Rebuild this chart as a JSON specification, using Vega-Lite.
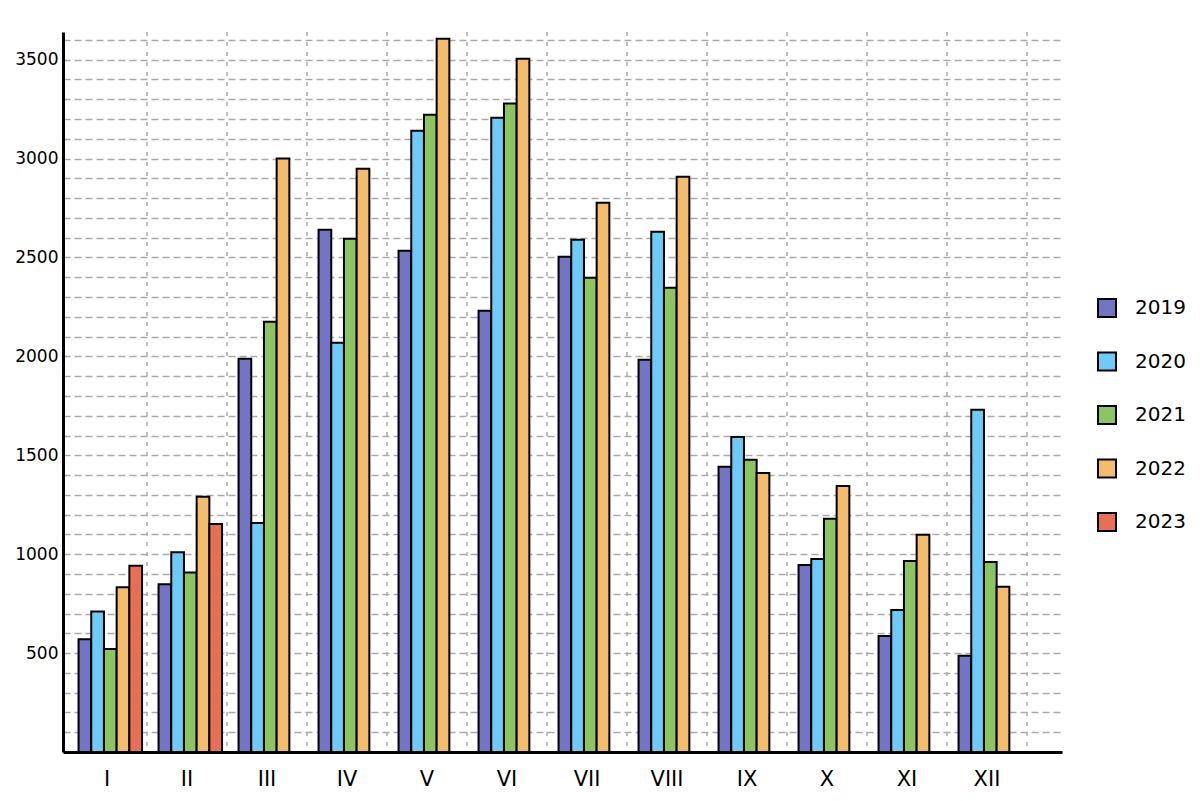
{
  "$schema": "https://vega.github.io/schema/vega-lite/v6.json",
  "description": "Grouped bars by month (I-XII) for 2019-2023",
  "width": 999,
  "height": 720,
  "autosize": {"type": "none"},
  "padding": {"left": 63, "top": 32, "right": 138, "bottom": 49},
  "data": {
    "values": [
      {"month": "I", "year": "2019", "value": 570},
      {"month": "I", "year": "2020", "value": 710},
      {"month": "I", "year": "2021", "value": 521},
      {"month": "I", "year": "2022", "value": 833},
      {"month": "I", "year": "2023", "value": 942},
      {"month": "II", "year": "2019", "value": 848},
      {"month": "II", "year": "2020", "value": 1010},
      {"month": "II", "year": "2021", "value": 907},
      {"month": "II", "year": "2022", "value": 1290},
      {"month": "II", "year": "2023", "value": 1153},
      {"month": "III", "year": "2019", "value": 1988},
      {"month": "III", "year": "2020", "value": 1158},
      {"month": "III", "year": "2021", "value": 2175},
      {"month": "III", "year": "2022", "value": 3000},
      {"month": "IV", "year": "2019", "value": 2640},
      {"month": "IV", "year": "2020", "value": 2069},
      {"month": "IV", "year": "2021", "value": 2595},
      {"month": "IV", "year": "2022", "value": 2949},
      {"month": "V", "year": "2019", "value": 2534},
      {"month": "V", "year": "2020", "value": 3141},
      {"month": "V", "year": "2021", "value": 3222},
      {"month": "V", "year": "2022", "value": 3606},
      {"month": "VI", "year": "2019", "value": 2231},
      {"month": "VI", "year": "2020", "value": 3207},
      {"month": "VI", "year": "2021", "value": 3278},
      {"month": "VI", "year": "2022", "value": 3505},
      {"month": "VII", "year": "2019", "value": 2504},
      {"month": "VII", "year": "2020", "value": 2590},
      {"month": "VII", "year": "2021", "value": 2398},
      {"month": "VII", "year": "2022", "value": 2777},
      {"month": "VIII", "year": "2019", "value": 1983},
      {"month": "VIII", "year": "2020", "value": 2630},
      {"month": "VIII", "year": "2021", "value": 2347},
      {"month": "VIII", "year": "2022", "value": 2908},
      {"month": "IX", "year": "2019", "value": 1442},
      {"month": "IX", "year": "2020", "value": 1593},
      {"month": "IX", "year": "2021", "value": 1477},
      {"month": "IX", "year": "2022", "value": 1411},
      {"month": "X", "year": "2019", "value": 946},
      {"month": "X", "year": "2020", "value": 976},
      {"month": "X", "year": "2021", "value": 1179},
      {"month": "X", "year": "2022", "value": 1345},
      {"month": "XI", "year": "2019", "value": 587},
      {"month": "XI", "year": "2020", "value": 718},
      {"month": "XI", "year": "2021", "value": 966},
      {"month": "XI", "year": "2022", "value": 1098},
      {"month": "XII", "year": "2019", "value": 486},
      {"month": "XII", "year": "2020", "value": 1730},
      {"month": "XII", "year": "2021", "value": 961},
      {"month": "XII", "year": "2022", "value": 835}
    ]
  },
  "layer": [
    {
      "transform": [{"filter": "datum.year === '2019'"}],
      "mark": {"type": "rule", "color": "#aaaaaa", "strokeWidth": 1.5, "strokeDash": [4, 6]},
      "encoding": {
        "x": {
          "field": "month",
          "type": "nominal",
          "bandPosition": 1,
          "sort": ["I", "II", "III", "IV", "V", "VI", "VII", "VIII", "IX", "X", "XI", "XII"],
          "axis": {
            "title": null,
            "labelAngle": 0,
            "labelAlign": "center",
            "labelBaseline": "top",
            "bandPosition": 0.5,
            "ticks": false,
            "grid": false,
            "domainColor": "black",
            "domainWidth": 3,
            "labelFont": "DejaVu Sans",
            "labelFontSize": 21,
            "labelColor": "black",
            "labelPadding": 16
          }
        }
      }
    },
    {
      "mark": {"type": "bar", "stroke": "black", "strokeWidth": 2},
      "encoding": {
        "x": {
          "field": "month",
          "type": "nominal",
          "sort": ["I", "II", "III", "IV", "V", "VI", "VII", "VIII", "IX", "X", "XI", "XII"],
          "scale": {"paddingInner": 0, "paddingOuter": 0.24375, "align": 0.1026},
          "axis": {
            "title": null,
            "labelAngle": 0,
            "labelAlign": "center",
            "labelBaseline": "top",
            "bandPosition": 0.5,
            "ticks": false,
            "grid": false,
            "domainColor": "black",
            "domainWidth": 3,
            "labelFont": "DejaVu Sans",
            "labelFontSize": 21,
            "labelColor": "black",
            "labelPadding": 16
          }
        },
        "xOffset": {
          "field": "year",
          "type": "nominal",
          "scale": {"paddingInner": 0, "paddingOuter": 0.65, "align": 0.7}
        },
        "y": {
          "field": "value",
          "type": "quantitative",
          "scale": {"domain": [0, 3640], "nice": false},
          "axis": {
            "title": null,
            "values": [100, 200, 300, 400, 500, 600, 700, 800, 900, 1000, 1100, 1200, 1300, 1400, 1500, 1600, 1700, 1800, 1900, 2000, 2100, 2200, 2300, 2400, 2500, 2600, 2700, 2800, 2900, 3000, 3100, 3200, 3300, 3400, 3500, 3600],
            "format": "d",
            "labelExpr": "datum.value % 500 === 0 ? datum.label : ''",
            "ticks": false,
            "domainColor": "black",
            "domainWidth": 3,
            "grid": true,
            "gridColor": "#aaaaaa",
            "gridWidth": 1.5,
            "gridDash": [7, 4],
            "labelFont": "DejaVu Sans",
            "labelFontSize": 17,
            "labelColor": "black",
            "labelPadding": 5
          }
        },
        "color": {
          "field": "year",
          "type": "nominal",
          "scale": {
            "domain": ["2019", "2020", "2021", "2022", "2023"],
            "range": ["#7474c4", "#6ecbf7", "#8dc462", "#f5bb6c", "#e86f55"]
          },
          "legend": {
            "title": null,
            "orient": "none",
            "legendX": 1034,
            "legendY": 266,
            "padding": 0,
            "symbolType": "square",
            "symbolSize": 324,
            "symbolStrokeColor": "black",
            "symbolStrokeWidth": 2,
            "symbolOpacity": 1,
            "labelFont": "DejaVu Sans",
            "labelFontSize": 20,
            "labelColor": "black",
            "labelOffset": 18,
            "rowPadding": 27.5
          }
        }
      }
    }
  ],
  "config": {
    "view": {"stroke": null}
  }
}
